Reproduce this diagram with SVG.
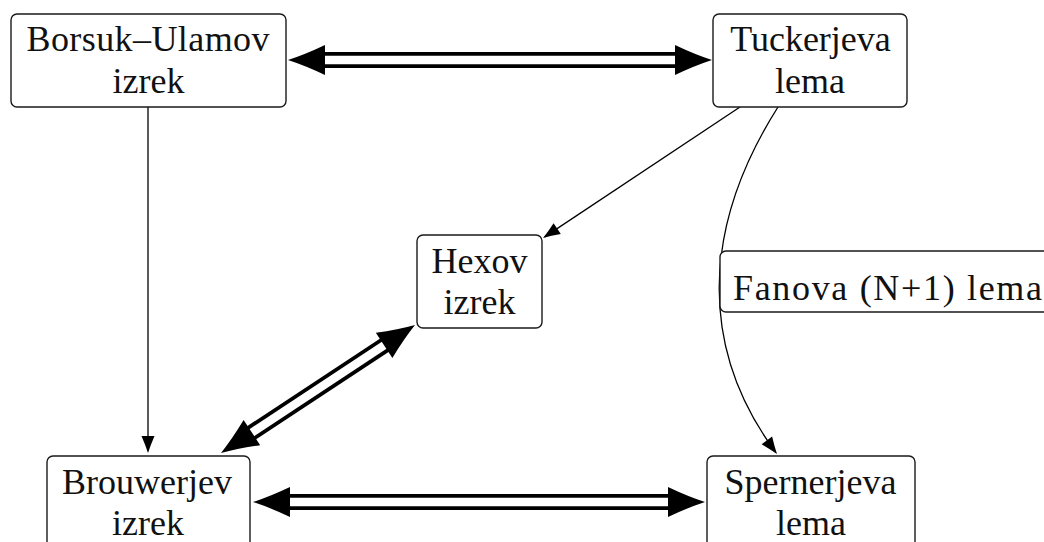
<svg xmlns="http://www.w3.org/2000/svg" xmlns:xlink="http://www.w3.org/1999/xlink" width="1044" height="542" viewBox="0 0 1044 542">
<style>
.box{fill:#fff;stroke:#1a1a1a;stroke-width:1.4}
.t{font-family:"Liberation Serif","Times New Roman",serif;font-size:36px;fill:#111;text-anchor:middle}
.thin{fill:none;stroke:#000;stroke-width:1.3}
.dblo{stroke:#000;stroke-width:16;fill:none}
.dbli{stroke:#fff;stroke-width:8.4;fill:none}
</style>
<defs>
<path id="bh" d="M0 0 Q-17 -5.5 -37 -15 L-37 15 Q-17 5.5 0 0 Z" fill="#000"/>
<marker id="ah" markerUnits="userSpaceOnUse" orient="auto" refX="0" refY="0" markerWidth="20" markerHeight="20" overflow="visible">
<path d="M2 0 Q-6 -2.6 -15 -6.5 L-15 6.5 Q-6 2.6 2 0 Z" fill="#000"/>
</marker>
</defs>
<rect width="1044" height="542" fill="#fff"/>
<g id="connectors">
<line class="thin" x1="148" y1="107" x2="148" y2="451" marker-end="url(#ah)"/>
<line class="thin" x1="740" y1="107" x2="544.7" y2="236.9" marker-end="url(#ah)"/>
<path class="thin" d="M778 107 C700 230 700 350 775.8 452.4" marker-end="url(#ah)"/>
<line class="dblo" x1="324" y1="60" x2="676" y2="60"/>
<line class="dbli" x1="324" y1="60" x2="676" y2="60"/>
<use xlink:href="#bh" transform="translate(712,60)"/>
<use xlink:href="#bh" transform="translate(288,60) rotate(180)"/>
<line class="dblo" x1="289" y1="502" x2="669" y2="502"/>
<line class="dbli" x1="289" y1="502" x2="669" y2="502"/>
<use xlink:href="#bh" transform="translate(705,502)"/>
<use xlink:href="#bh" transform="translate(253,502) rotate(180)"/>
<line class="dblo" x1="251.05" y1="433.17" x2="384.95" y2="344.83"/>
<line class="dbli" x1="251.05" y1="433.17" x2="384.95" y2="344.83"/>
<use xlink:href="#bh" transform="translate(415,325) rotate(-33.42)"/>
<use xlink:href="#bh" transform="translate(221,453) rotate(146.58)"/>
</g>
<g id="borsuk">
<rect class="box" x="11" y="14" width="275" height="93" rx="6"/>
<text class="t" x="148" y="51" textLength="243" lengthAdjust="spacing">Borsuk–Ulamov</text>
<text class="t" x="148.5" y="93">izrek</text>
</g>
<g id="tucker">
<rect class="box" x="713" y="14" width="194" height="93" rx="6"/>
<text class="t" x="810.5" y="51">Tuckerjeva</text>
<text class="t" x="810" y="93">lema</text>
</g>
<g id="hex">
<rect class="box" x="417" y="235" width="125" height="93" rx="6"/>
<text class="t" x="479.5" y="273">Hexov</text>
<text class="t" x="479.5" y="314">izrek</text>
</g>
<g id="fan">
<rect class="box" x="720" y="251" width="340" height="61" rx="6"/>
<text class="t" x="733" y="300" style="text-anchor:start" textLength="309" lengthAdjust="spacing">Fanova (N+1) lema</text>
</g>
<g id="brouwer">
<rect class="box" x="47" y="456" width="203" height="93" rx="6"/>
<text class="t" x="147" y="493.5">Brouwerjev</text>
<text class="t" x="148" y="535">izrek</text>
</g>
<g id="sperner">
<rect class="box" x="707" y="456" width="208" height="93" rx="6"/>
<text class="t" x="810.5" y="494">Spernerjeva</text>
<text class="t" x="811" y="535">lema</text>
</g>
</svg>
